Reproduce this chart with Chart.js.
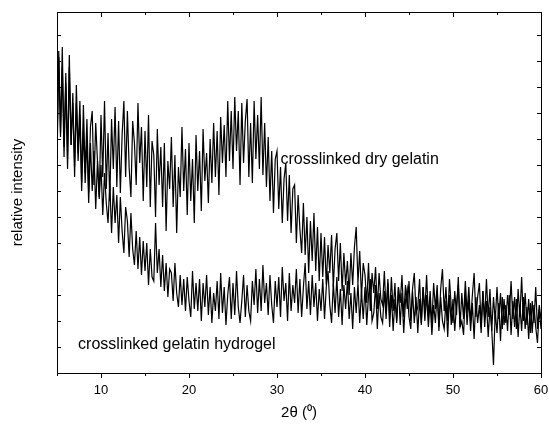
<!DOCTYPE html>
<html>
<head>
<meta charset="utf-8">
<script src="https://cdn.jsdelivr.net/npm/chart.js@4.4.1/dist/chart.umd.min.js"></script>
<style>
  html, body { margin: 0; padding: 0; background: #fff; }
  #wrap { width: 549px; height: 437px; }
</style>
</head>
<body>
<div id="wrap"><canvas id="xrd" width="549" height="437"></canvas></div>
<script>
// 2θ grid: scans start at 5° with a 0.2° step, one value per step
const twoThetaStart = 5;
const twoThetaStep = 0.2;

// x tick labels (every 10°, minor marks every 5°)
const xTickLabels = ["10", "20", "30", "40", "50", "60"];

// crosslinked dry gelatin (arbitrary units)
const dryGelatin = [
    210, 316, 240, 326, 226,   // 5
    300, 214, 318, 228, 280,   // 6
    196, 288, 220, 272, 190,   // 7
    268, 200, 254, 180, 246,   // 8
    262, 188, 250, 212, 176,   // 9
    258, 196, 272, 184, 240,   // 10
    172, 254, 204, 266, 186,   // 11
    252, 180, 238, 272, 196,   // 12
    262, 205, 176, 252, 230,   // 13
    188, 270, 210, 246, 172,   // 14
    242, 186, 258, 166, 232,   // 15
    218, 156, 244, 188, 226,   // 16
    166, 230, 142, 212, 184,   // 17
    236, 166, 218, 140, 206,   // 18
    176, 246, 182, 224, 158,   // 19
    230, 172, 214, 150, 238,   // 20
    182, 222, 162, 244, 192,   // 21
    220, 170, 234, 190, 250,   // 22
    196, 242, 178, 256, 210,   // 23
    248, 196, 272, 212, 262,   // 24
    204, 276, 222, 262, 188,   // 25
    270, 210, 252, 274, 196,   // 26
    250, 190, 272, 214, 258,   // 27
    204, 276, 198, 250, 186,   // 28
    236, 172, 222, 160, 214,   // 29
    222, 164, 206, 150, 194,   // 30
    210, 152, 198, 140, 184,   // 31
    188, 130, 178, 144, 120,   // 32
    170, 118, 156, 100, 152,   // 33
    112, 160, 102, 146, 92,    // 34
    140, 96, 136, 88, 128,     // 35
    100, 138, 86, 124, 140,    // 36
    92, 130, 82, 120, 88,      // 37
    112, 78, 120, 88, 126,     // 38
    146, 90, 122, 76, 110,     // 39
    98, 70, 110, 62, 100,      // 40
    80, 106, 64, 100, 74,      // 41
    68, 102, 60, 94, 56,       // 42
    96, 62, 90, 50, 86,        // 43
    70, 98, 56, 88, 64,        // 44
    92, 52, 84, 100, 60,       // 45
    66, 94, 50, 86, 62,        // 46
    98, 56, 82, 48, 90,        // 47
    64, 88, 46, 84, 104,       // 48
    62, 86, 52, 94, 66,        // 49
    50, 82, 58, 96, 46,        // 50
    80, 54, 92, 60, 86,        // 51
    50, 78, 100, 56, 76,       // 52
    90, 46, 82, 54, 94,        // 53
    56, 84, 42, 76, 52,        // 54
    86, 54, 80, 44, 74,        // 55
    50, 78, 58, 92, 54,        // 56
    76, 44, 84, 56, 96,        // 57
    52, 80, 48, 74, 40,        // 58
    72, 50, 86, 44, 68,        // 59
    54                         // 60
];

// crosslinked gelatin hydrogel
const gelatinHydrogel = [
    226, 322, 236, 306, 216,   // 5
    290, 204, 306, 228, 270,   // 6
    206, 270, 212, 258, 182,   // 7
    244, 190, 234, 170, 230,   // 8
    182, 222, 164, 212, 174,   // 9
    208, 158, 200, 170, 150,   // 10
    190, 140, 186, 150, 178,   // 11
    130, 176, 142, 120, 166,   // 12
    152, 116, 160, 124, 108,   // 13
    142, 104, 136, 98, 132,    // 14
    102, 130, 88, 124, 96,     // 15
    92, 150, 100, 124, 86,     // 16
    118, 82, 110, 76, 104,     // 17
    100, 72, 110, 80, 66,      // 18
    98, 68, 94, 62, 96,        // 19
    72, 56, 102, 64, 90,       // 20
    62, 94, 52, 90, 66,        // 21
    98, 58, 86, 50, 80,        // 22
    62, 92, 54, 100, 60,       // 23
    86, 48, 78, 96, 54,        // 24
    90, 58, 102, 66, 50,       // 25
    72, 98, 56, 88, 62,        // 26
    52, 92, 68, 104, 60,       // 27
    94, 62, 108, 70, 90,       // 28
    58, 98, 68, 50, 92,        // 29
    66, 96, 56, 106, 72,       // 30
    90, 52, 100, 62, 88,       // 31
    70, 104, 60, 94, 56,       // 32
    86, 110, 64, 92, 58,       // 33
    98, 66, 90, 52, 84,        // 34
    62, 94, 54, 86, 102,       // 35
    68, 50, 90, 60, 96,        // 36
    56, 84, 48, 88, 64,        // 37
    92, 54, 80, 44, 86,        // 38
    60, 90, 50, 82, 54,        // 39
    86, 48, 78, 94, 52,        // 40
    60, 88, 44, 80, 56,        // 41
    50, 82, 54, 90, 46,        // 42
    78, 42, 74, 52, 86,        // 43
    48, 80, 40, 72, 84,        // 44
    56, 44, 82, 50, 76,        // 45
    40, 74, 48, 86, 52,        // 46
    78, 46, 72, 38, 68,        // 47
    50, 82, 42, 76, 52,        // 48
    44, 72, 36, 78, 48,        // 49
    74, 42, 68, 88, 46,        // 50
    52, 38, 80, 48, 74,        // 51
    42, 70, 34, 76, 50,        // 52
    68, 40, 82, 46, 72,        // 53
    36, 66, 44, 8, 62,         // 54
    40, 70, 32, 76, 48,        // 55
    68, 42, 78, 38, 72,        // 56
    46, 74, 36, 68, 42,        // 57
    76, 44, 66, 34, 70,        // 58
    40, 68, 46, 30, 64,        // 59
    44                         // 60
];

// curve labels, anchored in data coordinates (left edge, vertical middle)
const curveLabels = [
    { text: "crosslinked dry gelatin", x: 30.4, y: 213 },
    { text: "crosslinked gelatin hydrogel", x: 7.4, y: 28 },
];

const FONT = '"Liberation Sans", Arial, Helvetica, sans-serif';

function toPoints(values) {
    return values.map((v, i) => ({
        x: Math.round((twoThetaStart + i * twoThetaStep) * 100) / 100,
        y: v,
    }));
}

// frame + tick marks the way Origin draws them (out on bottom, in elsewhere)
const frameTicks = {
    id: "frameTicks",
    afterDraw(chart) {
        const { ctx, chartArea: a, scales } = chart;
        const xs = scales.x;
        const ys = scales.y;
        ctx.save();
        ctx.strokeStyle = "#000";
        ctx.lineWidth = 1;
        ctx.strokeRect(a.left + 0.5, a.top + 0.5, a.right - a.left, a.bottom - a.top);

        ctx.beginPath();
        for (const t of xs.ticks) {
            const px = Math.round(xs.getPixelForValue(t.value)) + 0.5;
            const major = t.value % 10 === 0;
            const len = major ? 5 : 3;
            ctx.moveTo(px, a.bottom);
            ctx.lineTo(px, a.bottom + len);
            ctx.moveTo(px, a.top);
            ctx.lineTo(px, a.top + len);
        }
        for (const t of ys.ticks) {
            const py = Math.round(ys.getPixelForValue(t.value)) + 0.5;
            ctx.moveTo(a.left, py);
            ctx.lineTo(a.left + 4, py);
            ctx.moveTo(a.right, py);
            ctx.lineTo(a.right - 4, py);
        }
        ctx.stroke();
        ctx.restore();
    },
};

// text labels next to the curves
const curveText = {
    id: "curveText",
    afterDatasetsDraw(chart) {
        const { ctx, scales } = chart;
        ctx.save();
        ctx.fillStyle = "#000";
        ctx.font = "16px " + FONT;
        ctx.textAlign = "left";
        ctx.textBaseline = "middle";
        for (const l of curveLabels) {
            ctx.fillText(l.text, scales.x.getPixelForValue(l.x), scales.y.getPixelForValue(l.y));
        }
        ctx.restore();
    },
};

Chart.defaults.color = "#000";
Chart.defaults.font.family = FONT;

new Chart(document.getElementById("xrd").getContext("2d"), {
    type: "line",
    data: {
        datasets: [
            { label: "crosslinked dry gelatin", data: toPoints(dryGelatin), borderColor: "#000", borderWidth: 1.2, pointRadius: 0, tension: 0, fill: false },
            { label: "crosslinked gelatin hydrogel", data: toPoints(gelatinHydrogel), borderColor: "#000", borderWidth: 1.2, pointRadius: 0, tension: 0, fill: false },
        ],
    },
    options: {
        responsive: false,
        animation: false,
        devicePixelRatio: 1,
        layout: { padding: { left: 0, top: 12, right: 8, bottom: 0 } },
        plugins: { legend: { display: false }, tooltip: { enabled: false } },
        scales: {
            x: {
                type: "linear",
                min: 5,
                max: 60,
                grid: { display: false, drawTicks: false },
                border: { display: false },
                ticks: {
                    stepSize: 5,
                    autoSkip: false,
                    maxRotation: 0,
                    padding: 10,
                    font: { size: 13 },
                    callback: (v) => (v % 10 === 0 ? xTickLabels[v / 10 - 1] : ""),
                },
                title: { display: true, text: "2θ (⁰)", font: { size: 15 }, padding: { top: 0, bottom: 15 } },
                // keep the frame edges where the picture has them
                afterFit: (s) => { s.height = 64; s.paddingLeft = 0; s.paddingRight = 0; },
            },
            y: {
                min: 0,
                max: 361,
                grid: { display: false, drawTicks: false },
                border: { display: false },
                ticks: { display: false, stepSize: 26 },
                title: { display: true, text: "relative intensity", font: { size: 15 }, padding: { top: 9, bottom: 0 } },
                afterFit: (s) => { s.width = 57; },
            },
        },
    },
    plugins: [frameTicks, curveText],
});
</script>
</body>
</html>
